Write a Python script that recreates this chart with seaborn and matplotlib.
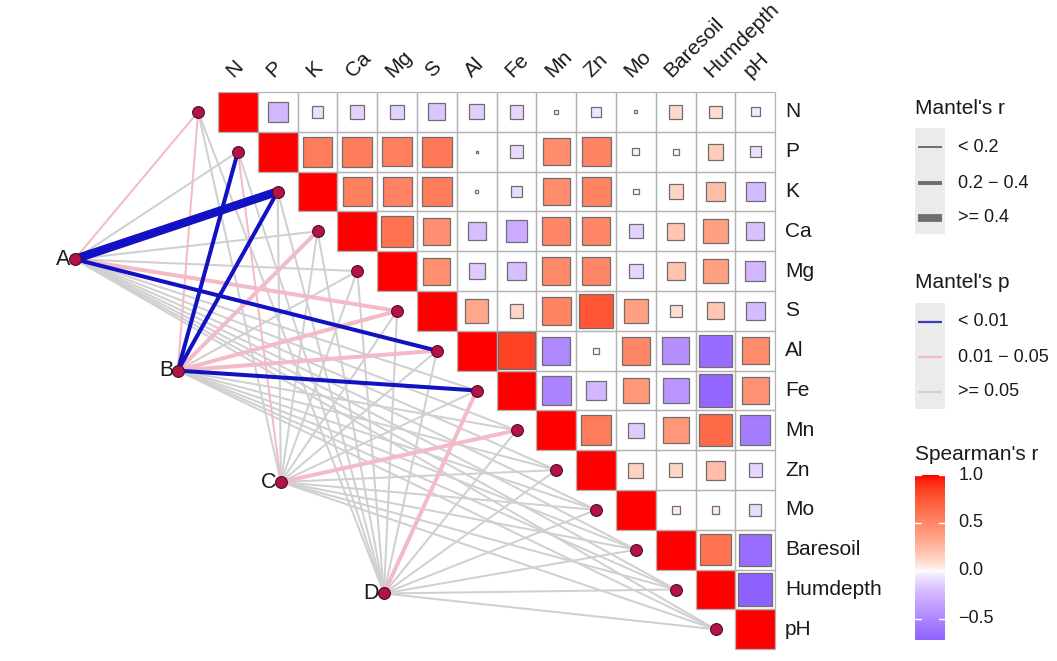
import numpy as np
import matplotlib
matplotlib.use("Agg")
import matplotlib.pyplot as plt
import seaborn as sns
from matplotlib.colors import ListedColormap, Normalize
from matplotlib.patches import Rectangle

# ---------------- data ----------------
variables = ["N", "P", "K", "Ca", "Mg", "S", "Al", "Fe", "Mn", "Zn", "Mo",
             "Baresoil", "Humdepth", "pH"]

# Spearman's r, upper triangle, each row starts right after the diagonal
r_N = [-0.25, -0.08, -0.12, -0.12, -0.18, -0.14, -0.11, -0.01, -0.06, 0.005, 0.11, 0.10, -0.05]
r_P = [0.56, 0.56, 0.54, 0.58, 0.003, -0.10, 0.47, 0.53, 0.03, 0.02, 0.16, -0.08]
r_K = [0.54, 0.53, 0.56, 0.007, -0.09, 0.47, 0.53, 0.02, 0.13, 0.22, -0.23]
r_Ca = [0.62, 0.46, -0.21, -0.30, 0.50, 0.50, -0.13, 0.19, 0.37, -0.20]
r_Mg = [0.46, -0.16, -0.21, 0.49, 0.50, -0.11, 0.20, 0.37, -0.25]
r_S = [0.34, 0.12, 0.52, 0.76, 0.37, 0.09, 0.18, -0.22]
r_Al = [0.85, -0.50, 0.02, 0.50, -0.45, -0.66, 0.48]
r_Fe = [-0.52, -0.25, 0.42, -0.42, -0.70, 0.44]
r_Mn = [0.56, -0.15, 0.42, 0.65, -0.56]
r_Zn = [0.14, 0.11, 0.23, -0.11]
r_Mo = [0.04, 0.04, -0.09]
r_Baresoil = [0.62, -0.65]
r_Humdepth = [-0.72]

spec_names = ["A", "B", "C", "D"]
# Mantel's r and p of each spec group against each variable (order of `variables`)
mantel_r_A = [0.15, 0.10, 0.45, 0.08, 0.06, 0.25, 0.28, 0.05, 0.04, 0.03, 0.02, 0.05, 0.06, 0.03]
mantel_p_A = [0.03, 0.20, 0.001, 0.30, 0.40, 0.02, 0.005, 0.50, 0.60, 0.70, 0.80, 0.50, 0.40, 0.70]
mantel_r_B = [0.15, 0.30, 0.32, 0.22, 0.08, 0.22, 0.22, 0.30, 0.05, 0.04, 0.03, 0.06, 0.05, 0.04]
mantel_p_B = [0.03, 0.002, 0.001, 0.02, 0.30, 0.03, 0.02, 0.004, 0.50, 0.60, 0.70, 0.40, 0.50, 0.60]
mantel_r_C = [0.08, 0.15, 0.07, 0.06, 0.05, 0.06, 0.04, 0.05, 0.22, 0.04, 0.03, 0.05, 0.04, 0.03]
mantel_p_C = [0.20, 0.04, 0.30, 0.40, 0.50, 0.40, 0.60, 0.50, 0.03, 0.60, 0.70, 0.50, 0.60, 0.70]
mantel_r_D = [0.05, 0.06, 0.05, 0.04, 0.05, 0.06, 0.07, 0.22, 0.05, 0.04, 0.03, 0.05, 0.04, 0.03]
mantel_p_D = [0.50, 0.40, 0.50, 0.60, 0.50, 0.40, 0.30, 0.03, 0.50, 0.60, 0.70, 0.50, 0.60, 0.70]

r_rows = [r_N, r_P, r_K, r_Ca, r_Mg, r_S, r_Al, r_Fe, r_Mn, r_Zn, r_Mo, r_Baresoil, r_Humdepth]
mantel_r = [mantel_r_A, mantel_r_B, mantel_r_C, mantel_r_D]
mantel_p = [mantel_p_A, mantel_p_B, mantel_p_C, mantel_p_D]

n = len(variables)
corr = np.full((n, n), np.nan)
for i in range(n):
    corr[i, i] = 1.0
for i, row in enumerate(r_rows):
    for k, v in enumerate(row):
        corr[i, i + 1 + k] = v

# ---------------- colours (Lab interpolation) ----------------
_M = np.array([[0.4124, 0.3576, 0.1805], [0.2126, 0.7152, 0.0722], [0.0193, 0.1192, 0.9505]])
_Minv = np.linalg.inv(_M)
_W = np.array([0.95047, 1.0, 1.08883])


def _lin(c):
    c = np.asarray(c, float)
    return np.where(c <= 0.04045, c / 12.92, ((c + 0.055) / 1.055) ** 2.4)


def _delin(c):
    c = np.clip(c, 0, 1)
    return np.where(c <= 0.0031308, 12.92 * c, 1.055 * c ** (1 / 2.4) - 0.055)


def to_lab(rgb):
    xyz = _M @ _lin(rgb) / _W
    f = np.where(xyz > 216 / 24389, np.cbrt(xyz), (24389 / 27 * xyz + 16) / 116)
    return np.array([116 * f[1] - 16, 500 * (f[0] - f[1]), 200 * (f[1] - f[2])])


def from_lab(lab):
    L, a, b = lab
    fy = (L + 16) / 116
    f = np.array([fy + a / 500, fy, fy - b / 200])
    xyz = np.where(f ** 3 > 216 / 24389, f ** 3, (116 * f - 16) / (24389 / 27)) * _W
    return _delin(_Minv @ xyz)


low = np.array([95, 55, 255]) / 255
mid = np.array([255, 255, 255]) / 255
high = np.array([255, 0, 0]) / 255
lab_low, lab_mid, lab_high = to_lab(low), to_lab(mid), to_lab(high)
cols = []
for v in np.linspace(-1, 1, 256):
    t = abs(v) ** 0.72
    if v < 0:
        lab = lab_mid + (lab_low - lab_mid) * t
    else:
        lab = lab_mid + (lab_high - lab_mid) * t
    cols.append(from_lab(lab))
cmap = ListedColormap(cols)
norm = Normalize(-1, 1)

# ---------------- figure ----------------
sns.set_style("white")
plt.rcParams["font.family"] = ["Liberation Sans", "DejaVu Sans"]

W, H = 1057, 661
fig = plt.figure(figsize=(W / 100, H / 100), dpi=100)
ax = fig.add_axes([0, 0, 1, 1])

# diagonal cells (r = 1) drawn as a heatmap; everything else masked
diag_mask = ~np.eye(n, dtype=bool)
sns.heatmap(corr, mask=diag_mask, cmap=cmap, vmin=-1, vmax=1, cbar=False,
            linewidths=0, ax=ax, xticklabels=False, yticklabels=False)

# cell borders (upper triangle only) and squares (area ~ |r|)
for i in range(n):
    for j in range(i, n):
        ax.add_patch(Rectangle((j, i), 1, 1, facecolor="none", edgecolor="#B4B4B4",
                               lw=0.9, zorder=2))
        if j == i:
            continue
        v = corr[i, j]
        s = np.sqrt(abs(v))
        ax.add_patch(Rectangle((j + 0.5 - s / 2, i + 0.5 - s / 2), s, s,
                               facecolor=cmap(norm(v)), edgecolor="#6E6E6E", lw=0.9, zorder=3))

# link geometry
env_x = np.arange(n) - 0.5
env_y = np.arange(n) + 0.5
spec_x = -3.6 + 2.59 * np.arange(len(spec_names))
spec_y = 4.2 + 2.80 * np.arange(len(spec_names))


def p_col(p):
    if p < 0.01:
        return "#1212C2", 4
    if p < 0.05:
        return "#F3BAC7", 3
    return "#D0D0D0", 2


def r_lw(r):
    if r < 0.2:
        return 1.45
    if r < 0.4:
        return 2.9
    return 6.2


for k in range(len(spec_names)):
    for i in range(n):
        c, z = p_col(mantel_p[k][i])
        ax.plot([spec_x[k], env_x[i]], [spec_y[k], env_y[i]], color=c,
                lw=r_lw(mantel_r[k][i]), solid_capstyle="butt", zorder=z)

node_x = np.concatenate([env_x, spec_x])
node_y = np.concatenate([env_y, spec_y])
sns.scatterplot(x=node_x, y=node_y, ax=ax, s=72, color="#B3134B",
                edgecolor="#4D0A22", linewidth=0.8, zorder=6, legend=False)

for k, name in enumerate(spec_names):
    ax.text(spec_x[k] - 0.12, spec_y[k], name, ha="right", va="center",
            fontsize=15.5, color="#1A1A1A", zorder=7)

for j, name in enumerate(variables):
    ax.text(j + 0.46, -0.27, name, rotation=45, rotation_mode="anchor",
            ha="left", va="bottom", fontsize=15, color="#1A1A1A")
for i, name in enumerate(variables):
    ax.text(n + 0.25, i + 0.5, name, ha="left", va="center", fontsize=15, color="#1A1A1A")

x0, y0, cw = 218, 92, 39.8
ax.set_xlim(-x0 / cw, (W - x0) / cw)
ax.set_ylim((H - y0) / cw, -y0 / cw)
ax.axis("off")

# ---------------- legends ----------------
lax = fig.add_axes([0, 0, 1, 1], facecolor="none")
lax.set_xlim(0, W)
lax.set_ylim(H, 0)
lax.axis("off")

tx, lx = 915, 958
lax.text(tx, 108, "Mantel's r", fontsize=15, va="center", ha="left", color="#1A1A1A")
lax.add_patch(Rectangle((915, 128), 30, 106, facecolor="#EBEBEB", edgecolor="none"))
for yy, lw, lab in zip([147, 183, 218], [1.4, 2.8, 5.6], ["< 0.2", "0.2 \u2212 0.4", ">= 0.4"]):
    lax.plot([918, 942], [yy, yy], color="#6E6E6E", lw=lw, solid_capstyle="butt")
    lax.text(lx, yy, lab, fontsize=13, va="center", ha="left", color="#1A1A1A")

lax.text(tx, 283, "Mantel's p", fontsize=15, va="center", ha="left", color="#1A1A1A")
lax.add_patch(Rectangle((915, 303), 30, 106, facecolor="#EBEBEB", edgecolor="none"))
for yy, c, lab in zip([322, 357, 392], ["#3C3CB4", "#F3BAC7", "#D0D0D0"],
                      ["< 0.01", "0.01 \u2212 0.05", ">= 0.05"]):
    lax.plot([918, 942], [yy, yy], color=c, lw=1.6, solid_capstyle="butt")
    lax.text(lx, yy, lab, fontsize=13, va="center", ha="left", color="#1A1A1A")

lax.text(tx, 455, "Spearman's r", fontsize=15, va="center", ha="left", color="#1A1A1A")
vmin = np.nanmin(corr)
cax = fig.add_axes([915 / W, (H - 640) / H, 30 / W, (640 - 475) / H])
grad = np.linspace(vmin, 1, 300)[:, None]
cax.imshow(grad, aspect="auto", cmap=cmap, norm=norm, origin="lower",
           extent=[0, 1, vmin, 1])
cax.set_xlim(0, 1)
cax.set_ylim(vmin, 1)
cax.axis("off")
for t in [1.0, 0.5, 0.0, -0.5]:
    cax.plot([0, 0.2], [t, t], color="white", lw=1.0)
    cax.plot([0.8, 1], [t, t], color="white", lw=1.0)
    cax.text(1.45, t, f"{t:.1f}".replace("-", "\u2212"), fontsize=13, va="center",
             ha="left", color="#1A1A1A", transform=cax.transData, clip_on=False)

fig.savefig("out.png", dpi=100, facecolor="white")
